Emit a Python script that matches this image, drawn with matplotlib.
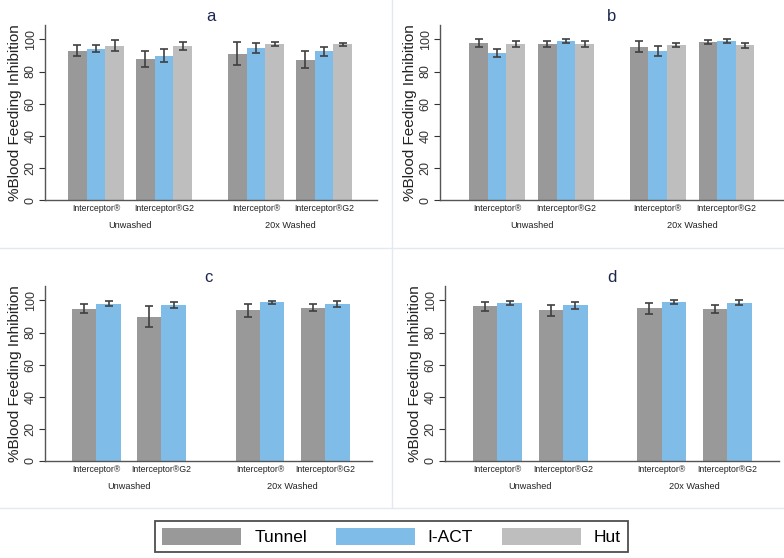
"""Four-panel bar chart: % blood feeding inhibition by net type and wash status."""

import matplotlib

matplotlib.use("Agg")

import matplotlib.pyplot as plt  # noqa: E402
import numpy as np  # noqa: E402
from matplotlib.lines import Line2D  # noqa: E402
from matplotlib.patches import Patch  # noqa: E402
from matplotlib.transforms import blended_transform_factory  # noqa: E402

plt.rcParams["font.family"] = ["Liberation Sans", "DejaVu Sans"]

SERIES = ["Tunnel", "I-ACT", "Hut"]
PRODUCTS = ["Interceptor®", "Interceptor®G2"]
WASHES = ["Unwashed", "20x Washed"]

# order of groups: Unwashed/Interceptor, Unwashed/G2, Washed/Interceptor, Washed/G2
A_TUNNEL = [92.7, 87.6, 91.1, 87.3]
A_TUNNEL_CI = [(90.0, 96.3), (83.0, 92.7), (83.8, 98.3), (82.0, 92.7)]
A_IACT = [93.8, 89.6, 94.4, 92.5]
A_IACT_CI = [(92.1, 96.5), (85.9, 93.8), (91.5, 97.5), (89.6, 95.6)]
A_HUT = [96.1, 95.9, 97.1, 97.1]
A_HUT_CI = [(92.7, 99.8), (93.4, 98.3), (95.9, 98.3), (95.9, 98.1)]

B_TUNNEL = [97.9, 97.3, 95.4, 98.5]
B_TUNNEL_CI = [(95.6, 100.2), (95.4, 98.8), (91.9, 99.0), (96.9, 99.6)]
B_IACT = [91.3, 99.2, 92.7, 99.0]
B_IACT_CI = [(88.8, 94.2), (97.9, 100.2), (89.4, 95.9), (97.9, 100.2)]
B_HUT = [97.3, 97.3, 96.5, 96.5]
B_HUT_CI = [(95.4, 99.0), (95.4, 98.8), (95.0, 97.7), (94.8, 98.1)]

C_TUNNEL = [94.6, 89.6, 93.8, 95.6]
C_TUNNEL_CI = [(91.9, 97.5), (83.4, 96.3), (89.8, 98.1), (93.3, 98.1)]
C_IACT = [98.1, 97.3, 98.8, 97.5]
C_IACT_CI = [(96.7, 99.6), (95.6, 99.2), (97.7, 99.6), (95.8, 99.4)]

D_TUNNEL = [96.3, 93.8, 95.1, 94.4]
D_TUNNEL_CI = [(93.6, 99.0), (90.3, 97.3), (91.3, 98.4), (92.0, 97.1)]
D_IACT = [98.4, 96.9, 99.0, 98.6]
D_IACT_CI = [(96.9, 99.8), (94.6, 99.0), (97.7, 100.0), (97.3, 100.2)]

COLORS = {"Tunnel": "#999999", "I-ACT": "#7fbde8", "Hut": "#bebebe"}
TITLE_COLOR = "#1b2650"
W, H = 784, 558


def add_px_axes(fig, left, top, right, bottom):
    """Оси в пиксельных координатах (от левого верхнего угла)."""
    return fig.add_axes([left / W, 1 - bottom / H, (right - left) / W, (bottom - top) / H])


def draw_panel(ax, title, data, gap, width, xlim):
    group_x = np.array([0.0, 1.0, gap, gap + 1.0])
    n = len(data)
    for i, (name, means, ci) in enumerate(data):
        x = group_x + (i - (n - 1) / 2) * width
        ci = np.array(ci)
        means = np.array(means)
        ax.bar(x, means, width=width, color=COLORS[name], zorder=2)
        err = np.vstack([means - ci[:, 0], ci[:, 1] - means])
        ax.errorbar(x, means, yerr=err, fmt="none", ecolor="#404040",
                    elinewidth=1.2, capsize=3, capthick=1.2, zorder=3)

    ax.set_xlim(*xlim)
    ax.set_ylim(0, 109)
    ax.set_yticks(range(0, 101, 20))
    ax.tick_params(axis="y", labelsize=9, rotation=90, length=4, width=0.8,
                   colors="#333333", pad=2)
    for lab in ax.get_yticklabels():
        lab.set_va("center")
    ax.set_xticks(group_x, labels=PRODUCTS * 2)
    ax.tick_params(axis="x", length=0, labelsize=6.3, pad=3, colors="#222222")
    ax.set_ylabel("%Blood Feeding Inhibition", fontsize=11, labelpad=2, color="#222222")
    for side in ("top", "right"):
        ax.spines[side].set_visible(False)
    for side in ("left", "bottom"):
        ax.spines[side].set_color("#555555")
        ax.spines[side].set_linewidth(1.0)

    trans = blended_transform_factory(ax.transData, ax.transAxes)
    for k, wash in enumerate(WASHES):
        mid = group_x[2 * k: 2 * k + 2].mean()
        ax.text(mid, -0.143, wash, transform=trans, ha="center", va="center",
                fontsize=6.6, color="#222222")
    ax.set_title(title, fontsize=12, color=TITLE_COLOR, pad=3)


fig = plt.figure(figsize=(W / 100, H / 100), dpi=100)

ax_a = add_px_axes(fig, 45, 25, 377, 200)
draw_panel(ax_a, "a", [("Tunnel", A_TUNNEL, A_TUNNEL_CI), ("I-ACT", A_IACT, A_IACT_CI),
                       ("Hut", A_HUT, A_HUT_CI)], 2.35, 0.275, (-0.75, 4.13))

ax_b = add_px_axes(fig, 440, 25, 783, 200)
draw_panel(ax_b, "b", [("Tunnel", B_TUNNEL, B_TUNNEL_CI), ("I-ACT", B_IACT, B_IACT_CI),
                       ("Hut", B_HUT, B_HUT_CI)], 2.33, 0.27, (-0.83, 4.15))

ax_c = add_px_axes(fig, 45, 286, 372, 461)
draw_panel(ax_c, "c", [("Tunnel", C_TUNNEL, C_TUNNEL_CI), ("I-ACT", C_IACT, C_IACT_CI)],
           2.52, 0.374, (-0.79, 4.24))

ax_d = add_px_axes(fig, 445, 286, 779, 461)
draw_panel(ax_d, "d", [("Tunnel", D_TUNNEL, D_TUNNEL_CI), ("I-ACT", D_IACT, D_IACT_CI)],
           2.5, 0.372, (-0.80, 4.29))

# Светлые рамки между панелями.
border = "#e3e9ef"
fig.add_artist(Line2D([392 / W, 392 / W], [1 - 508 / H, 1], color=border, lw=1))
fig.add_artist(Line2D([0, 1], [1 - 248 / H, 1 - 248 / H], color=border, lw=1))
fig.add_artist(Line2D([0, 1], [1 - 508 / H, 1 - 508 / H], color=border, lw=1))

handles = [Patch(facecolor=COLORS[s], edgecolor="none") for s in SERIES]
leg = fig.legend(handles, SERIES, loc="center", bbox_to_anchor=(391.5 / W, 1 - 536.5 / H),
                 ncol=3, fontsize=12.5, frameon=True, fancybox=False, handlelength=4.55,
                 handleheight=1.2, handletextpad=0.75, columnspacing=1.65,
                 borderpad=0.4, borderaxespad=0)
leg.get_frame().set_edgecolor("#222222")
leg.get_frame().set_linewidth(1.3)

fig.savefig("out.png", dpi=100)
